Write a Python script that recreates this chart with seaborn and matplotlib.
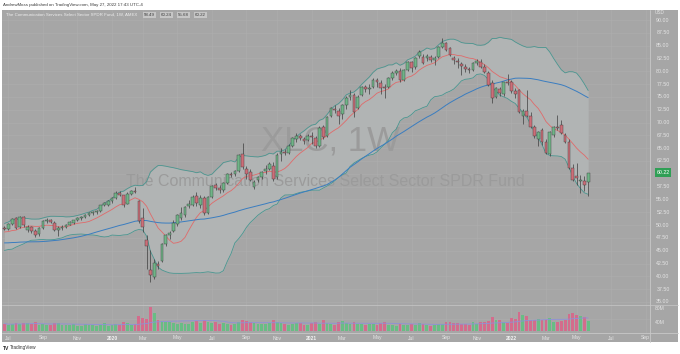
import numpy as np
import pandas as pd
import seaborn as sns
import matplotlib.pyplot as plt
from matplotlib.lines import Line2D
from matplotlib.patches import Rectangle
from matplotlib import transforms

# weekly closes before the visible window (feed the moving averages only)
warmup_closes = [49.5, 48.5, 48.3, 48.6, 48.5, 48.8, 48.5, 48.0, 48.2, 48.8,
                 48.3, 47.0, 45.8, 45.5, 44.0, 44.9, 45.3, 44.5, 43.6, 44.4,
                 42.5, 42.3, 40.7, 41.9, 43.0, 43.8, 44.6, 44.4, 45.0, 45.2,
                 45.7, 45.9, 45.6, 45.4, 46.5, 46.4, 47.0, 47.8, 48.3, 48.6,
                 49.5, 49.2, 48.6, 48.0, 48.2, 47.6, 48.2, 48.8, 49.3]

first_week = '2019-06-24'

opens = [
    49.5, 49.2, 50.2, 51.3, 49.6, 51.5, 49.0, 49.6, 48.9, 48.2, 49.4, 50.8, 51.0, 50.5, 49.1, 49.4, 49.7, 50.1, 50.5, 50.9,
    51.3, 51.6, 52.0, 52.3, 52.6, 52.8, 53.9, 54.0,
    54.6, 55.2, 56.3, 55.8, 54.2, 56.1, 56.7, 54.6, 51.4, 47.0, 41.2, 39.8, 42.4, 43.0, 46.4, 48.0, 48.8, 50.3, 51.3, 52.0,
    53.8, 54.0, 55.6, 54.0, 55.3, 52.4, 55.5, 57.8, 57.2, 56.8, 58.2,
    60.0, 59.9, 60.6, 63.8, 61.0, 60.4, 57.5, 58.7, 59.3, 60.5, 61.0, 61.5, 59.3, 63.8, 64.3, 64.1, 65.4, 66.8, 67.3, 66.7,
    66.6, 67.4, 67.0, 65.5, 69.1, 67.3, 71.2, 72.6, 72.2, 71.6, 73.4, 75.0, 75.4,
    72.8, 75.3, 76.9, 76.5, 77.0, 78.3, 77.8, 76.9, 77.0, 78.7, 79.7, 80.0, 78.3, 80.2, 81.8, 80.8, 83.0, 82.8, 82.6, 82.7,
    82.2, 82.8, 84.7, 85.5, 84.5, 82.5, 82.0, 81.5, 80.9, 80.4, 80.3, 81.6,
    81.8, 80.9, 79.7, 77.8, 75.0, 76.5, 75.6, 77.9, 77.9, 76.1, 76.3, 71.2, 72.3, 71.3, 69.1, 66.8, 68.5, 66.2, 63.9, 67.6,
    69.1, 69.5, 67.6, 66.2, 61.1, 59.6, 58.6, 58.6, 58.49,
]
highs = [
    49.9, 50.4, 51.4, 51.6, 51.8, 51.7, 50.0, 49.9, 49.2, 49.6, 50.9, 51.3, 51.2, 50.7, 49.8, 50.0, 50.3, 50.8, 51.0, 51.5,
    51.8, 52.2, 52.6, 52.8, 53.0, 54.0, 54.5, 54.9,
    55.4, 56.6, 56.6, 55.9, 56.4, 56.9, 57.4, 54.9, 53.4, 48.1, 45.2, 43.4, 43.0, 46.6, 48.3, 48.9, 51.0, 52.2, 53.5, 53.8,
    54.9, 55.8, 56.5, 55.8, 55.7, 55.7, 57.9, 58.3, 57.8, 58.4, 60.2,
    60.4, 60.8, 63.9, 66.0, 61.5, 60.9, 58.8, 59.6, 60.5, 61.8, 62.4, 62.3, 64.0, 65.0, 64.8, 65.8, 67.2, 67.9, 67.8, 67.2,
    67.8, 68.2, 67.4, 69.3, 69.6, 71.3, 73.0, 73.4, 72.8, 73.6, 75.2, 76.4, 75.8,
    75.3, 77.2, 77.4, 77.5, 78.7, 78.6, 78.2, 77.6, 78.9, 80.0, 80.4, 80.6, 80.4, 82.0, 82.0, 82.8, 84.2, 83.4, 83.3, 83.2,
    82.9, 84.9, 86.5, 85.8, 84.8, 82.9, 82.6, 81.9, 81.4, 80.9, 81.8, 82.3,
    82.4, 81.4, 80.0, 78.2, 77.0, 77.0, 78.0, 79.5, 78.3, 76.8, 76.6, 72.6, 76.3, 72.0, 69.6, 68.4, 68.9, 66.8, 68.4, 69.4,
    71.5, 70.5, 68.0, 66.8, 62.0, 62.1, 59.8, 59.5, 60.24,
]
lows = [
    49.0, 49.1, 50.0, 49.3, 49.5, 49.6, 48.6, 48.4, 47.7, 47.9, 49.2, 50.5, 50.4, 48.9, 47.9, 49.0, 49.5, 50.0, 50.3, 50.7,
    51.0, 51.3, 51.8, 52.0, 52.2, 52.6, 53.7, 53.8,
    54.3, 55.0, 55.6, 53.6, 54.1, 55.8, 56.2, 50.4, 48.7, 41.5, 38.9, 39.4, 41.4, 42.8, 45.9, 47.2, 48.6, 49.9, 51.0, 51.6,
    53.3, 53.7, 53.8, 53.3, 52.0, 52.1, 55.3, 56.8, 56.3, 56.4, 58.0,
    59.3, 59.6, 60.4, 60.9, 59.0, 58.6, 57.1, 58.4, 59.0, 60.0, 60.8, 58.6, 59.0, 62.5, 63.6, 63.9, 65.2, 66.3, 66.5, 65.8,
    66.4, 65.9, 65.1, 65.2, 66.7, 67.1, 71.0, 71.8, 69.8, 70.6, 72.6, 74.3, 71.0,
    72.6, 75.1, 76.0, 75.5, 76.8, 77.0, 75.6, 74.8, 76.8, 78.3, 79.2, 78.0, 78.1, 80.0, 79.8, 80.5, 82.6, 81.4, 82.0, 81.8,
    81.2, 82.6, 84.5, 83.9, 83.0, 81.4, 80.6, 79.3, 79.8, 79.6, 80.1, 81.3,
    80.6, 79.6, 77.1, 73.8, 74.8, 75.2, 75.2, 77.3, 75.8, 74.8, 71.9, 69.8, 71.0, 69.0, 67.0, 65.4, 65.6, 63.9, 63.5, 67.2,
    68.5, 67.8, 66.0, 61.0, 58.6, 57.8, 56.3, 56.6, 55.68,
]
closes = [
    49.2, 50.2, 51.2, 49.5, 51.6, 50.0, 49.6, 48.8, 48.0, 49.4, 50.7, 51.0, 50.6, 49.1, 49.4, 49.7, 50.1, 50.6, 50.9, 51.3,
    51.6, 52.0, 52.3, 52.6, 52.7, 53.9, 54.3, 54.6,
    55.2, 56.3, 55.8, 54.0, 56.1, 56.7, 56.4, 50.8, 49.6, 46.0, 40.2, 42.6, 42.0, 46.3, 48.0, 48.5, 50.5, 52.0, 52.3, 53.5,
    54.2, 55.5, 54.3, 55.3, 52.4, 55.4, 57.6, 57.2, 56.9, 58.2, 60.0,
    59.8, 60.5, 63.6, 61.4, 59.9, 58.8, 58.4, 59.3, 60.3, 60.9, 62.0, 58.9, 63.6, 64.2, 64.0, 65.5, 67.0, 67.4, 66.9, 66.4,
    67.4, 67.1, 65.4, 68.9, 67.1, 71.0, 72.8, 72.4, 71.3, 73.4, 74.8, 75.4, 72.1,
    75.0, 76.9, 76.6, 76.8, 78.3, 77.9, 76.7, 76.7, 78.7, 79.7, 80.0, 78.3, 80.2, 81.8, 80.6, 82.6, 83.7, 81.6, 82.9, 82.2,
    82.6, 84.7, 85.5, 84.1, 83.2, 82.2, 81.8, 81.0, 80.4, 80.2, 81.6, 82.0,
    80.8, 79.8, 77.3, 74.8, 76.7, 75.8, 77.9, 77.8, 76.1, 75.5, 72.1, 72.2, 71.2, 69.2, 67.3, 68.2, 66.2, 64.1, 68.2, 69.1,
    69.0, 68.0, 66.2, 61.2, 58.8, 59.2, 58.8, 57.9, 60.22,
]
# weekly volume, millions of shares
volumes = [
    24, 20, 22, 26, 21, 25, 27, 24, 28, 20, 22, 19, 18, 27, 25, 20, 19, 18, 21, 17, 16, 22, 20, 18, 15, 19, 27, 14,
    20, 24, 19, 30, 25, 20, 22, 52, 42, 40, 80, 62, 36,
    34, 30, 28, 26, 24, 27, 22, 24, 30, 33, 26, 35, 28, 25, 30, 22, 26, 24,
    20, 22, 28, 38, 34, 30, 27, 22, 21, 24, 26, 36, 30, 26, 22, 18, 24, 27, 25, 20, 19,
    26, 28, 24, 35, 27, 22, 20, 30, 33, 26, 24, 30, 22, 21, 20, 22, 24, 20, 26, 28, 20,
    19, 17, 24, 20, 18, 22, 20, 26, 24, 18, 17, 19, 22, 24, 28, 30, 26, 27, 24, 22, 20, 30, 24,
    28, 30, 33, 46, 35, 38, 28, 25, 42, 40, 65, 55, 50, 38, 36, 40, 37, 36, 42, 30, 28, 32, 36, 58, 62, 55, 50, 46, 33,
]

month_labels = ['Jul', 'Sep', 'Nov', '2020', 'Mar', 'May', 'Jul', 'Sep', 'Nov', '2021',
                'Mar', 'May', 'Jul', 'Sep', 'Nov', '2022', 'Mar', 'May', 'Jul', 'Sep']
price_levels = [35.0 + 2.5 * k for k in range(23)]
volume_labels = ['80M', '40M']
last_price = 60.22

W, H = 680, 354
BG = '#a6a6a6'
FILL = '#b1b4b4'
GRID = '#adadad'
UP = '#6fb487'
DOWN = '#cd6e78'
WICK = '#3d3d3d'
BAND = '#4a9690'
SMA_FAST = '#e06a6a'
SMA_SLOW = '#3a7dc0'
VUP = '#62c081'
VDOWN = '#d9668a'
VMA = '#8e90d8'
AXIS_TXT = '#e4e4e4'


def px_rect(x0, y0, x1, y1):
    return [x0 / W, 1 - y1 / H, (x1 - x0) / W, (y1 - y0) / H]


def fy(y):
    return 1 - y / H


def main():
    sns.set_theme(style='white')
    plt.rcParams['font.family'] = ['Liberation Sans', 'DejaVu Sans']

    o = np.array(opens)
    h = np.array(highs)
    lo = np.array(lows)
    c = np.array(closes)
    v = np.array(volumes, dtype=float)
    n = len(c)
    x = np.arange(n)
    up = c >= o

    full = pd.Series(warmup_closes + closes)
    skip = len(warmup_closes)
    sma10 = full.rolling(10).mean().values[skip:]
    sma20 = full.rolling(20).mean().values[skip:]
    sd20 = full.rolling(20).std(ddof=0).values[skip:]
    upper = sma20 + 2 * sd20
    lower = sma20 - 2 * sd20
    sma50 = full.rolling(50).mean().values[skip:]
    vol_ma = pd.Series(v).rolling(20, min_periods=1).mean().values

    # bar index <-> pixel: bar j sits at 4.48 + 3.84 * j
    xlim = ((2 - 4.48) / 3.84, (650 - 4.48) / 3.84)

    fig = plt.figure(figsize=(6.8, 3.54), dpi=100, facecolor='white')
    fig.patches.append(Rectangle((2 / W, fy(342)), 676 / W, 332 / H, transform=fig.transFigure,
                                 facecolor=BG, edgecolor='none', zorder=-5))

    ax = fig.add_axes(px_rect(2, 10, 650, 305))
    vax = fig.add_axes(px_rect(2, 305, 650, 333))
    for a in (ax, vax):
        a.set_facecolor(BG)
        for s in a.spines.values():
            s.set_visible(False)
        a.set_xticks([])
        a.set_yticks([])
        a.set_xlim(*xlim)
    ax.set_ylim(90 - 285 / 5.127, 90 + 10 / 5.127)
    vax.set_ylim(-3 / 14 * 40, 31 / 14 * 40)

    # month tick positions: first weekly bar of each labelled month
    dates = pd.date_range(first_week, periods=170, freq='W-MON')
    dd = pd.DataFrame({'d': dates, 'j': np.arange(len(dates))})
    dd = dd[dd['d'].dt.month % 2 == 1]
    firsts = dd.groupby([dd['d'].dt.year, dd['d'].dt.month])['j'].min().values
    tick_pos = [p for p in firsts if p * 3.84 + 4.48 < 650][:len(month_labels)]

    for p in tick_pos:
        ax.axvline(p, color=GRID, lw=0.5, zorder=0.1)
        vax.axvline(p, color=GRID, lw=0.5, zorder=0.1)
    for lv in price_levels:
        ax.axhline(lv, color=GRID, lw=0.5, zorder=0.1)
    vax.axhline(40, color=GRID, lw=0.5, zorder=0.1)

    # watermark
    ax.text(330 / W, fy(141), 'XLC, 1W', transform=fig.transFigure, ha='center', va='center',
            fontsize=25, color='#9b9b9b', zorder=0.4)
    ax.text(325 / W, fy(181), 'The Communication Services Select Sector SPDR Fund', transform=fig.transFigure,
            ha='center', va='center', fontsize=11.5, color='#9b9b9b', zorder=0.4)

    # bollinger band fill and indicator lines
    ax.fill_between(x, lower, upper, color=FILL, lw=0, zorder=0.3)
    sns.lineplot(x=x, y=upper, ax=ax, color=BAND, lw=0.6, zorder=1)
    sns.lineplot(x=x, y=lower, ax=ax, color=BAND, lw=0.6, zorder=1)
    sns.lineplot(x=x, y=sma10, ax=ax, color=SMA_FAST, lw=0.6, zorder=1)
    sns.lineplot(x=x, y=sma50, ax=ax, color=SMA_SLOW, lw=0.7, zorder=1)

    # candles
    ax.vlines(x, lo, h, color=WICK, lw=0.5, zorder=2)
    body = np.maximum(np.abs(c - o), 0.1)
    ax.bar(x, body, bottom=np.minimum(o, c), width=0.7, color=np.where(up, UP, DOWN),
           edgecolor=WICK, linewidth=0.3, zorder=3)
    ax.set_xlim(*xlim)

    # volume
    vax.bar(x, v, width=0.72, color=np.where(up, VUP, VDOWN), lw=0, alpha=0.9, zorder=2)
    sns.lineplot(x=x, y=vol_ma, ax=vax, color=VMA, lw=0.6, zorder=3)
    vax.set_xlim(*xlim)
    vax.set_ylim(-3 / 14 * 40, 31 / 14 * 40)

    # pane separators
    sep = '#c8c8c8'
    fig.add_artist(Line2D([650 / W, 650 / W], [fy(10), fy(342)], color=sep, lw=0.6, zorder=5))
    fig.add_artist(Line2D([2 / W, 678 / W], [fy(333), fy(333)], color=sep, lw=0.6, zorder=5))
    fig.add_artist(Line2D([2 / W, 678 / W], [fy(305), fy(305)], color=sep, lw=0.5, zorder=5))

    # price axis
    ptrans = transforms.blended_transform_factory(fig.transFigure, ax.transData)
    for lv in price_levels:
        ax.text(663 / W, lv, f'{lv:.2f}', transform=ptrans, ha='center', va='center',
                fontsize=3.8, color=AXIS_TXT, clip_on=False)
    ax.text(663 / W, last_price, f'{last_price:.2f}', transform=ptrans, ha='center', va='center',
            fontsize=3.8, color='white', clip_on=False, zorder=6,
            bbox=dict(boxstyle='square,pad=0.35', facecolor='#2f9f55', edgecolor='none'))
    fig.text(660 / W, fy(13), 'USD', fontsize=3.4, color=AXIS_TXT, ha='center', va='center')
    for lab, yy in zip(volume_labels, [308, 322]):
        fig.text(660 / W, fy(yy), lab, fontsize=3.6, color=AXIS_TXT, ha='center', va='center')

    # time axis
    ttrans = transforms.blended_transform_factory(vax.transData, fig.transFigure)
    for p, lab in zip(tick_pos, month_labels):
        bold = lab.isdigit()
        vax.text(p, fy(338), lab, transform=ttrans, ha='center', va='center', fontsize=3.6,
                 color='#f2f2f2' if bold else AXIS_TXT, fontweight='bold' if bold else 'normal',
                 clip_on=False)

    # header texts
    fig.text(3 / W, fy(5), 'AndrewMoss published on TradingView.com, May 27, 2022 17:43 UTC-4',
             fontsize=3.2, color='#3a3a3a', va='center')
    fig.text(6 / W, fy(15), 'The Communication Services Select Sector SPDR Fund, 1W, AMEX',
             fontsize=3.2, color='#ededed', va='center')
    for xx, val in zip([144, 161, 178, 195], [opens[-1], highs[-1], lows[-1], closes[-1]]):
        fig.text(xx / W, fy(15), f'{val:.2f}', fontsize=3.2, color='#3c3c3c', va='center',
                 bbox=dict(boxstyle='square,pad=0.25', facecolor='#c6c6c6', edgecolor='none'))

    fig.text(3 / W, fy(348), 'TV', fontsize=3.6, fontweight='bold', color='#222222', va='center')
    fig.text(10 / W, fy(348), 'TradingView', fontsize=3.4, color='#333333', va='center')

    fig.savefig('out.png', dpi=100, facecolor='white')


if __name__ == '__main__':
    main()
